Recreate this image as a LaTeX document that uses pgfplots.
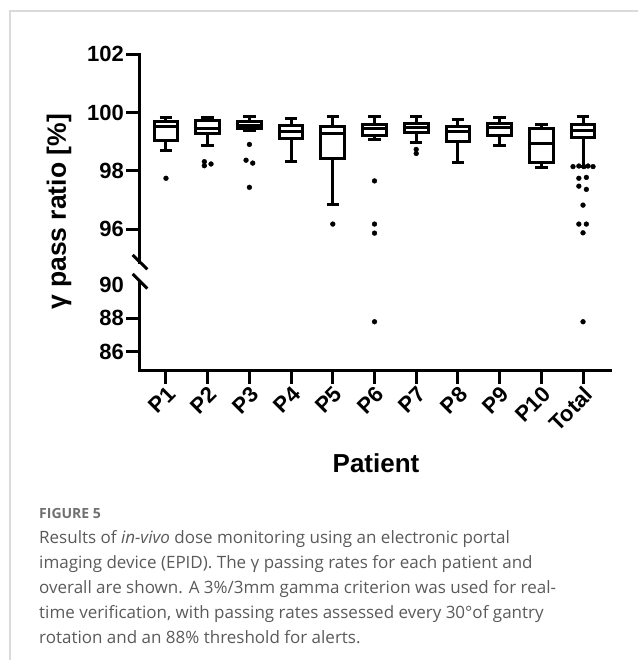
\documentclass[border=0pt]{standalone}
\usepackage{fontspec}
\setmainfont{Liberation Sans}
\newfontfamily\capfont{Open Sans}
\usepackage{pgfplots}
\pgfplotsset{compat=1.18}
\usepgfplotslibrary{statistics}
\definecolor{capgray}{HTML}{5A5A5A}
\definecolor{figgray}{HTML}{707070}
\definecolor{framegray}{HTML}{DADADA}
\pgfplotsset{
  common/.style={
    scale only axis, width=471pt,
    xmin=-0.647, xmax=10.647,
    axis line style={black, line width=3pt, line cap=rect},
    tick style={black, line width=3pt},
    major tick length=13pt,
    tick align=outside,
    /pgf/number format/assume math mode=true,
    ticklabel style={font=\fontsize{22}{22}\selectfont\bfseries},
    yticklabel style={inner sep=2pt},
    boxplot/draw direction=y,
  },
  bxs/.style={black, line width=3pt, solid, mark=none},
  out/.style={only marks, mark=*, mark size=2.4pt, black},
}
\newcommand{\bx}[6]{\addplot[bxs, boxplot prepared={draw position=#1, lower whisker=#2, lower quartile=#3, median=#4, upper quartile=#5, upper whisker=#6, box extend=0.57, whisker extend=0.3}] coordinates {};}
\begin{document}
\begin{tikzpicture}[x=1pt,y=1pt]
\useasboundingbox (0,0) rectangle (638,-660);
\draw[framegray, line width=1.2pt] (10,-660) -- (10,-11) -- (638,-11);
\begin{axis}[common, at={(139pt,-262pt)}, anchor=south west, height=207.7pt,
  ymin=94.88, ymax=102, axis x line=none, axis y line*=left, ytick={96,98,100,102}]
\bx{0}{98.69}{99.03}{99.52}{99.69}{99.83}
\bx{1}{98.88}{99.28}{99.45}{99.72}{99.84}
\bx{2}{99.39}{99.45}{99.56}{99.70}{99.88}
\bx{3}{98.32}{99.10}{99.35}{99.55}{99.79}
\bx{4}{96.86}{98.44}{99.27}{99.54}{99.86}
\bx{5}{99.09}{99.21}{99.44}{99.61}{99.86}
\bx{6}{98.98}{99.33}{99.48}{99.63}{99.88}
\bx{7}{98.30}{99.00}{99.35}{99.54}{99.75}
\bx{8}{98.87}{99.20}{99.48}{99.63}{99.84}
\bx{9}{98.13}{98.30}{98.95}{99.44}{99.58}
\bx{10}{98.17}{99.14}{99.40}{99.61}{99.88}
\addplot[out] coordinates {
(0,97.75)
(0.92,98.32) (0.92,98.18) (1.08,98.24)
(2,98.91) (1.92,98.37) (2.08,98.27) (2,97.44)
(4,96.18)
(5,97.66) (5,96.18) (5,95.87)
(6,98.74) (6,98.60)
(9.76,98.15) (9.9,98.17) (10.02,98.15) (10.12,98.17) (10.24,98.15)
(9.9,97.75) (10.08,97.78) (9.9,97.48) (10.08,97.37)
(10,96.83) (9.9,96.18) (10.08,96.18) (10,95.88)
};
\end{axis}
\begin{axis}[common, at={(139pt,-370.5pt)}, anchor=south west, height=89pt,
  ymin=84.88, ymax=90.21, axis lines*=left, ytick={86,88},
  extra y ticks={90}, extra y tick style={major tick style={draw=none}},
  xtick={0,...,10}, xticklabels={P1,P2,P3,P4,P5,P6,P7,P8,P9,P10,Total},
  x tick label style={rotate=45, anchor=north east, inner sep=1pt, font=\fontsize{22}{22}\selectfont\bfseries}]
\addplot[out] coordinates {(5,87.8) (10,87.8)};
\end{axis}
\draw[line width=3pt] (132.7,-255) -- (147.3,-269.3);
\draw[line width=3pt] (132.7,-274) -- (147.3,-288.5);
\node[rotate=90, font=\fontsize{26.5}{26.5}\selectfont\bfseries] at (59,-212) {γ pass ratio [\%]};
\node[font=\fontsize{26}{26}\selectfont\bfseries] at (376,-463) {Patient};
\node[anchor=west, font=\capfont\bfseries\fontsize{14}{14}\selectfont, text=figgray, inner sep=0pt] at (39,-513) {FIGURE 5};
\node[anchor=north west, align=left, font=\capfont\fontsize{17}{25}\selectfont, text=capgray, inner sep=0pt] at (39,-530) {Results of \textit{in-vivo} dose monitoring using an electronic portal\\ imaging device (EPID). The γ passing rates for each patient and\\ overall are shown. A 3\%/3mm gamma criterion was used for real-\\ time verification, with passing rates assessed every 30°of gantry\\ rotation and an 88\% threshold for alerts.};
\end{tikzpicture}
\end{document}
